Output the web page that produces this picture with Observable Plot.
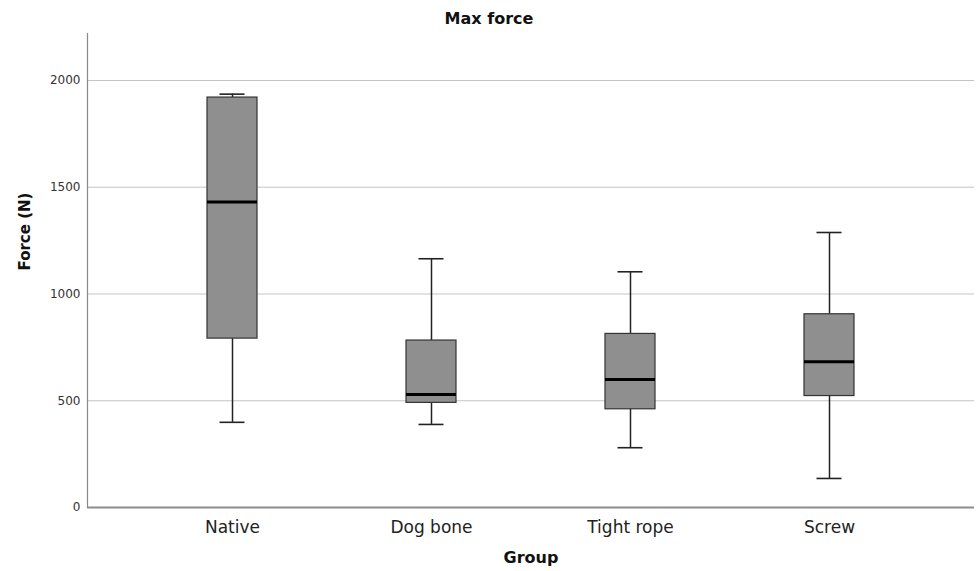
<!DOCTYPE html>
<html>
<head>
<meta charset="utf-8">
<script src="https://cdn.jsdelivr.net/npm/d3@7"></script>
<script src="https://cdn.jsdelivr.net/npm/@observablehq/plot@0.6"></script>
<style>
  html, body { margin: 0; padding: 0; background: #fff; }
  #wrap { position: relative; width: 978px; height: 571px; font-family: "DejaVu Sans", sans-serif; }
  #title { position: absolute; left: 0; top: 9px; width: 978px; text-align: center; font-weight: bold; font-size: 16px; line-height: 20px; color: #111; }
  #chart { position: absolute; left: 0; top: 0; }
</style>
</head>
<body>
<div id="wrap">
  <div id="chart"></div>
  <div id="title">Max force</div>
</div>
<script>
const groups = ["Native", "Dog bone", "Tight rope", "Screw"];
const whiskerLow = [399, 389, 280, 136];
const q1 = [791, 490, 460, 522];
const median = [1431, 529, 599, 683];
const q3 = [1920, 782, 813, 905];
const whiskerHigh = [1936, 1165, 1104, 1288];
const yTicks = [0, 500, 1000, 1500, 2000];
const gridTicks = [500, 1000, 1500, 2000];

const data = groups.map((g, i) => ({
  group: g, lo: whiskerLow[i], q1: q1[i], med: median[i], q3: q3[i], hi: whiskerHigh[i]
}));

const chart = Plot.plot({
  width: 978,
  height: 571,
  marginLeft: 87,
  marginRight: 4,
  marginTop: 33,
  marginBottom: 64,
  style: { fontFamily: "DejaVu Sans, sans-serif", background: "#fff" },
  x: { type: "band", domain: groups, paddingInner: 0.75, paddingOuter: 0.598, align: 0.5 },
  y: { domain: [0, 2220] },
  marks: [
    Plot.gridY(gridTicks, { stroke: "#c4c4c4", strokeOpacity: 1, strokeWidth: 1 }),
    Plot.axisY(yTicks, { tickSize: 0, tickPadding: 7, fontSize: 12, color: "#333", label: null, tickFormat: d3.format("d") }),
    Plot.axisX({ tickSize: 0, tickPadding: 13, fontSize: 17, color: "#222", label: null }),
    Plot.frame({ anchor: "left", stroke: "#888", strokeWidth: 1.2 }),
    Plot.ruleY([0], { stroke: "#8c8c8c", strokeWidth: 2 }),
    Plot.ruleX(data, { x: "group", y1: "lo", y2: "q1", stroke: "#222", strokeWidth: 1.5 }),
    Plot.ruleX(data, { x: "group", y1: "q3", y2: "hi", stroke: "#222", strokeWidth: 1.5 }),
    Plot.tickY(data, { x: "group", y: "lo", stroke: "#222", strokeWidth: 1.6, inset: 12.5 }),
    Plot.tickY(data, { x: "group", y: "hi", stroke: "#222", strokeWidth: 1.6, inset: 12.5 }),
    Plot.barY(data, { x: "group", y1: "q1", y2: "q3", fill: "#8f8f8f", stroke: "#333", strokeWidth: 1.2 }),
    Plot.tickY(data, { x: "group", y: "med", stroke: "#000", strokeWidth: 3 }),
    Plot.text(["Group"], { frameAnchor: "bottom", dy: 55, fontSize: 16, fontWeight: "bold", fill: "#111" }),
    Plot.text(["Force (N)"], { frameAnchor: "left", dx: -62, rotate: -90, fontSize: 15, fontWeight: "bold", fill: "#111" })
  ]
});
document.getElementById("chart").appendChild(chart);
</script>
</body>
</html>
